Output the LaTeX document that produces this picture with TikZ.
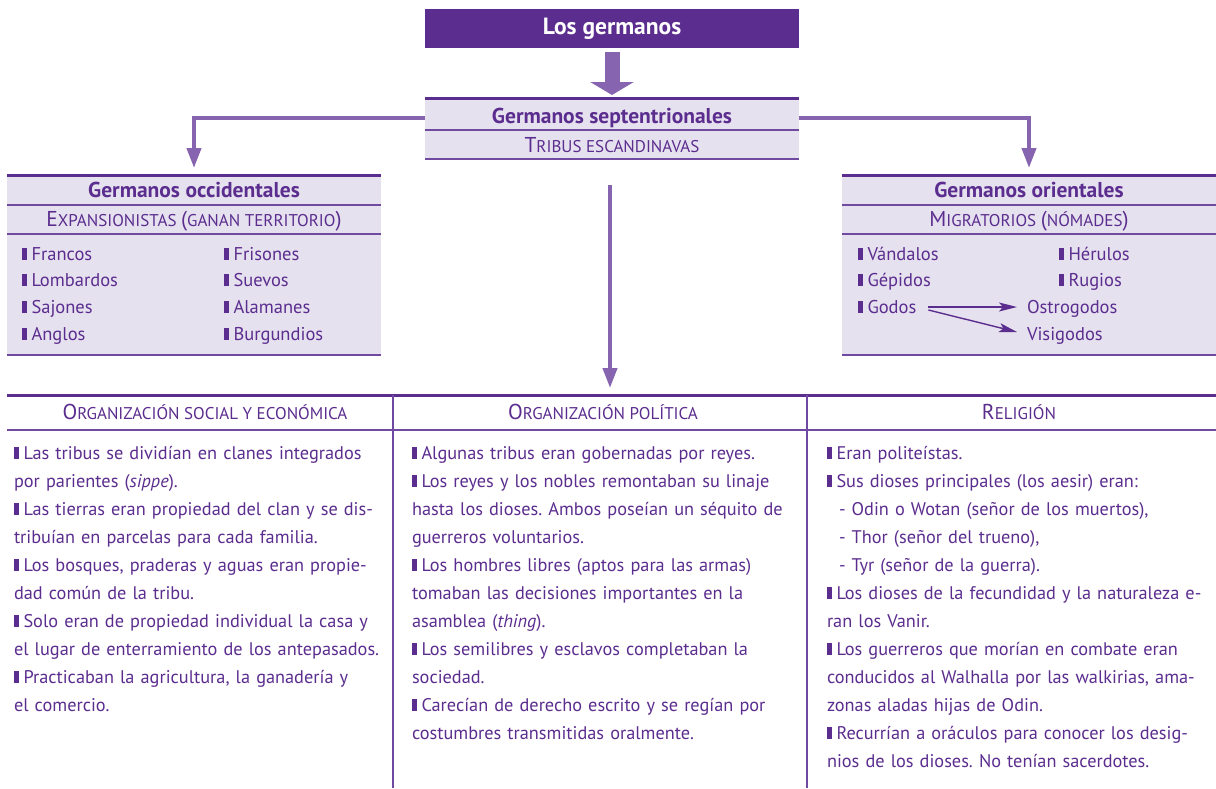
\documentclass[tikz,border=0pt]{standalone}
\usepackage{fontspec}
\setmainfont{PT Sans}
\usetikzlibrary{arrows.meta}
\definecolor{dk}{RGB}{91,45,142}
\definecolor{ar}{RGB}{134,100,176}
\definecolor{lt}{RGB}{230,225,239}
\definecolor{ln}{RGB}{112,74,160}
\newcommand\mybul{{\color{dk}\rule{4.5pt}{12.5pt}}\hspace{5pt}}
\newcommand\bsz{\fontsize{21.5}{21.5}\selectfont}
\newcommand\ssz{\fontsize{17}{17}\selectfont}
\frenchspacing
\begin{document}
\begin{tikzpicture}[x=1pt,y=-1pt,
 every node/.style={inner sep=0pt,outer sep=0pt,text=dk},
 boxfill/.style={fill=lt,draw=none,minimum width=374pt},
 thickl/.style={draw=dk,line width=3pt},
 thinl/.style={draw=ln,line width=1.2pt},
 conn/.style={draw=ar,line width=4pt,-{Triangle[width=14pt,length=20pt]}},
 garr/.style={draw=dk,line width=1.4pt,-{Stealth[width=9pt,length=18pt,inset=4pt]}},
 hd/.style={font=\fontsize{21.5}{21.5}\selectfont\bfseries,anchor=base},
 sc/.style={anchor=base},
 item/.style={font=\fontsize{18.5}{18.5}\selectfont,anchor=base west},
 body/.style={font=\fontsize{18.3}{28}\selectfont,anchor=north west,align=left,text width=#1}]

\useasboundingbox (0,0) rectangle (1216,788);

% title
\node[fill=dk,minimum width=374pt,minimum height=39pt,text=white,
      font=\fontsize{23.5}{23.5}\selectfont\bfseries] (T) at (612,28.5) {Los germanos};

% septentrionales
\node[boxfill,minimum height=61pt] (S) at (612,128.5) {};
\draw[thickl] (S.north west) -- (S.north east);
\draw[thinl] (425,130) -- (799,130);
\draw[thinl] (S.south west) -- (S.south east);
\node[hd] (S1) at (612,123) {Germanos septentrionales};
\node[sc] (S2) at (612,152) {{\bsz T}{\ssz RIBUS ESCANDINAVAS}};

\draw[draw=ar,line width=15pt,-{Triangle[width=43pt,length=13pt]},
      shorten <=4pt,shorten >=3pt] (T.south) -- (S.north);

% occidentales
\node[boxfill,minimum height=180pt] (O) at (194,265) {};
\draw[thickl] (O.north west) -- (O.north east);
\draw[thinl] (7,205) -- (381,205);
\draw[thinl] (7,234) -- (381,234);
\draw[thinl] (O.south west) -- (O.south east);
\node[hd] (O1) at (194,197) {Germanos occidentales};
\node[sc] (O2) at (194,226.5) {{\bsz E}{\ssz XPANSIONISTAS }{\bsz(}{\ssz GANAN TERRITORIO}{\bsz)}};
\node[item] (o1) at (22,260) {\mybul Francos};
\node[item] (o2) at (22,286) {\mybul Lombardos};
\node[item] (o3) at (22,313) {\mybul Sajones};
\node[item] (o4) at (22,340) {\mybul Anglos};
\node[item] (o5) at (224,260) {\mybul Frisones};
\node[item] (o6) at (224,286) {\mybul Suevos};
\node[item] (o7) at (224,313) {\mybul Alamanes};
\node[item] (o8) at (224,340) {\mybul Burgundios};

% orientales
\node[boxfill,minimum height=180pt] (R) at (1029,265) {};
\draw[thickl] (R.north west) -- (R.north east);
\draw[thinl] (842,205) -- (1216,205);
\draw[thinl] (842,234) -- (1216,234);
\draw[thinl] (R.south west) -- (R.south east);
\node[hd] (R1) at (1029,197) {Germanos orientales};
\node[sc] (R2) at (1029,226.5) {{\bsz M}{\ssz IGRATORIOS }{\bsz(}{\ssz NÓMADES}{\bsz)}};
\node[item] (r1) at (858,260) {\mybul Vándalos};
\node[item] (r2) at (858,286) {\mybul Gépidos};
\node[item] (gd) at (858,313) {\mybul Godos};
\node[item] (r4) at (1059,260) {\mybul Hérulos};
\node[item] (r5) at (1059,286) {\mybul Rugios};
\node[item] (os) at (1027,313) {Ostrogodos};
\node[item] (vi) at (1027,340) {Visigodos};
\draw[garr] ([xshift=12pt,yshift=6pt]gd.base east) -- ([xshift=-10pt,yshift=6pt]os.base west);
\draw[garr] ([xshift=12pt,yshift=3pt]gd.base east) -- ([xshift=-10pt,yshift=8pt]vi.base west);

% connectors
\coordinate (sL) at (425,118);
\coordinate (sR) at (799,118);
\coordinate (c0) at (610,185);
\draw[conn,shorten >=7pt] (sL) -| (O.north);
\draw[conn,shorten >=7pt] (sR) -| (R.north);

% table
\node[minimum width=1209pt,minimum height=393pt] (TB) at (611.5,591.5) {};
\draw[conn,shorten >=7pt] (c0) -- (c0 |- TB.north);
\draw[thickl] (TB.north west) -- (TB.north east);
\draw[thinl] (7,430) -- (1216,430);
\draw[thinl] (393,395) -- (393,788);
\draw[thinl] (807,395) -- (807,788);
\node[sc] (H1) at (205,419.5) {{\bsz O}{\ssz RGANIZACIÓN SOCIAL Y ECONÓMICA}};
\node[sc] (H2) at (603,419.5) {{\bsz O}{\ssz RGANIZACIÓN POLÍTICA}};
\node[sc] (H3) at (1019,419.5) {{\bsz R}{\ssz ELIGIÓN}};

\node[body=378pt] (B1) at (14,439.4) {\strut\mybul Las tribus se dividían en clanes integrados\\
por parientes (\textit{sippe}).\\
\mybul Las tierras eran propiedad del clan y se dis-\\
tribuían en parcelas para cada familia.\\
\mybul Los bosques, praderas y aguas eran propie-\\
dad común de la tribu.\\
\mybul Solo eran de propiedad individual la casa y\\
el lugar de enterramiento de los antepasados.\\
\mybul Practicaban la agricultura, la ganadería y\\
el comercio.};

\node[body=395pt] (B2) at (412,439.4) {\strut\mybul Algunas tribus eran gobernadas por reyes.\\
\mybul Los reyes y los nobles remontaban su linaje\\
hasta los dioses. Ambos poseían un séquito de\\
guerreros voluntarios.\\
\mybul Los hombres libres (aptos para las armas)\\
tomaban las decisiones importantes en la\\
asamblea (\textit{thing}).\\
\mybul Los semilibres y esclavos completaban la\\
sociedad.\\
\mybul Carecían de derecho escrito y se regían por\\
costumbres transmitidas oralmente.};

\node[body=389pt] (B3) at (827,439.4) {\strut\mybul Eran politeístas.\\
\mybul Sus dioses principales (los aesir) eran:\\
\hspace*{12pt}- Odin o Wotan (señor de los muertos),\\
\hspace*{12pt}- Thor (señor del trueno),\\
\hspace*{12pt}- Tyr (señor de la guerra).\\
\mybul Los dioses de la fecundidad y la naturaleza e-\\
ran los Vanir.\\
\mybul Los guerreros que morían en combate eran\\
conducidos al Walhalla por las walkirias, ama-\\
zonas aladas hijas de Odin.\\
\mybul Recurrían a oráculos para conocer los desig-\\
nios de los dioses. No tenían sacerdotes.};
\end{tikzpicture}
\end{document}
